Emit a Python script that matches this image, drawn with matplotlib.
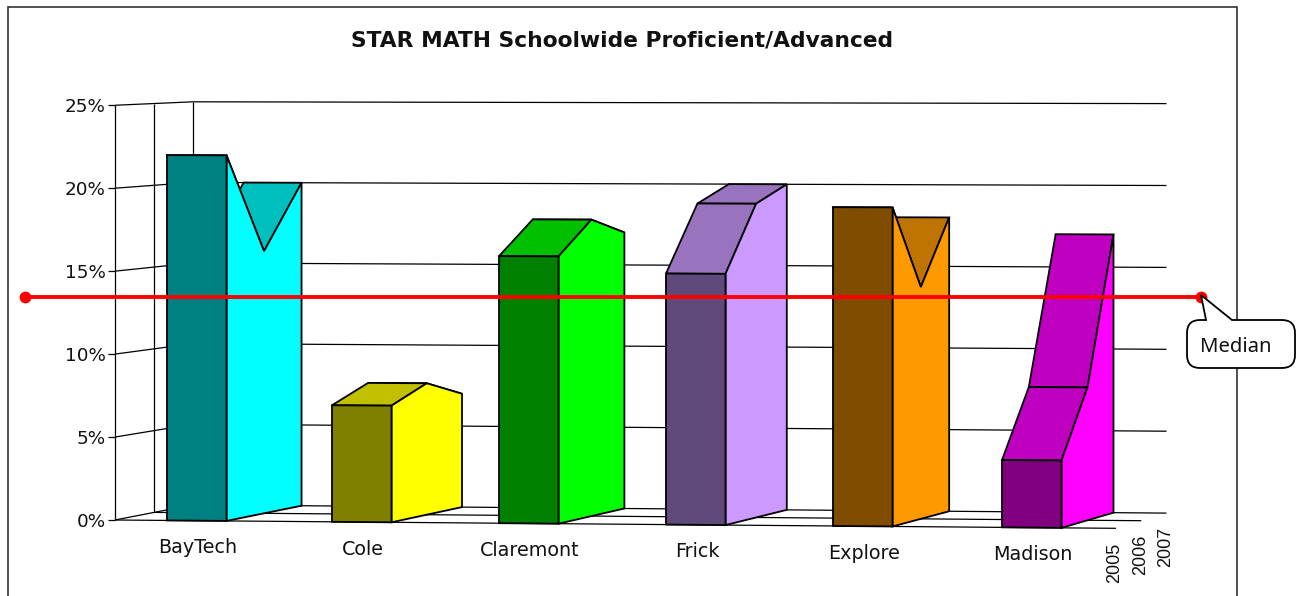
import matplotlib
matplotlib.use('Agg')
import matplotlib.pyplot as plt
from matplotlib.patches import Polygon, PathPatch, Rectangle
from matplotlib.path import Path

schools = ['BayTech', 'Cole', 'Claremont', 'Frick', 'Explore', 'Madison']
years = ['2005', '2006', '2007']
vals_2005 = [22, 7, 16, 15, 19, 4]
vals_2006 = [16, 8, 18, 19, 14, 8]
vals_2007 = [20, 7, 17, 20, 18, 17]
yticks = [0, 5, 10, 15, 20, 25]
front_colors = ['#008080', '#808000', '#008000', '#604A7B', '#7F4C00', '#800080']
top_colors = ['#00BFBF', '#C0C000', '#00C000', '#9A73BE', '#BF7300', '#C000C0']
side_colors = ['#00FFFF', '#FFFF00', '#00FF00', '#CC99FF', '#FF9900', '#FF00FF']

# floor corners and bar left edges, in picture pixels
x_left = 115
x_right = 1116
bar_lefts = [167, 332, 499, 666, 833, 1002]
bar_w = 59.5
median_y = 297


def project(xf, d, v):
	# fake excel 3d: xf is position on front edge, d is depth 0..2, v is percent
	x = xf + d / 2 * (81.3 - 0.0276 * xf)
	base = 520 + 0.0083 * (xf - x_left) - d / 2 * 15.2
	scale = 16.59 + 0.00026 * (xf - x_left) - d / 2 * 0.47
	return x, base - v * scale


fig = plt.figure(figsize=(12.98, 5.96), dpi=100)
ax = fig.add_axes([0, 0, 1, 1])
ax.set_xlim(0, 1298)
ax.set_ylim(596, 0)
ax.axis('off')

ax.add_patch(Rectangle((8, 7), 1229, 600, fc='white', ec='#333333', lw=1.2, zorder=0))
ax.text(622, 40, 'STAR MATH Schoolwide Proficient/Advanced', ha='center', va='center',
		family='DejaVu Sans', weight='bold', fontsize=15.7, color='#111111')


def wall_line(p1, p2, lw=0.9):
	ax.plot([p1[0], p2[0]], [p1[1], p2[1]], color='black', lw=lw, zorder=1, solid_capstyle='butt')


# walls and floor
for t in yticks:
	wall_line(project(x_left, 0, t), project(x_left, 2, t))
	wall_line(project(x_left, 2, t), project(x_right, 2, t))
	px, py = project(x_left, 0, t)
	wall_line((px - 7, py), (px, py))
	ax.text(px - 9, py + 2, str(t) + '%', ha='right', va='center', fontsize=13.2, color='#111111')
for d in range(3):
	wall_line(project(x_left, d, 0), project(x_left, d, 25))
wall_line(project(x_left, 0, 0), project(x_right, 0, 0))
wall_line(project(x_left, 1, 0), project(x_right, 1, 0))

# bars
for s in range(len(schools)):
	xa = bar_lefts[s]
	xb = xa + bar_w
	v = [vals_2005[s], vals_2006[s], vals_2007[s]]
	for d in [1, 0]:
		pts = [project(xa, d, v[d]), project(xb, d, v[d]), project(xb, d + 1, v[d + 1]), project(xa, d + 1, v[d + 1])]
		ax.add_patch(Polygon(pts, fc=top_colors[s], ec='black', lw=1.3, joinstyle='miter', zorder=2))
	side = [project(xb, d, v[d]) for d in range(3)] + [project(xb, 2, 0), project(xb, 0, 0)]
	ax.add_patch(Polygon(side, fc=side_colors[s], ec='black', lw=1.3, joinstyle='miter', zorder=3))
	front = [project(xa, 0, 0), project(xb, 0, 0), project(xb, 0, v[0]), project(xa, 0, v[0])]
	ax.add_patch(Polygon(front, fc=front_colors[s], ec='black', lw=1.3, joinstyle='miter', zorder=4))
	bx, by = project(xa + 31, 0, 0)
	ax.text(bx, by + 27, schools[s], ha='center', va='center', fontsize=13.8, color='#111111')

# year labels, rotated, under the right end of the floor
for d in range(3):
	px, py = project(x_right, d, 0)
	ax.text(px - 1, py + 14, years[d], rotation=90, ha='center', va='top',
			family='Liberation Sans', fontsize=13, color='#111111')

# median line drawn over the chart
ax.plot([25, 1201], [median_y, median_y], color='#FF0000', lw=2.8, marker='o', ms=7.5,
		solid_capstyle='butt', zorder=6)

# callout
l, r, t, b, c = 1187, 1295, 320, 368, 13
verts = [(l + c, t), (1206, t), (1201, 295), (1232, t), (r - c, t), (r, t), (r, t + c), (r, b - c), (r, b),
		(r - c, b), (l + c, b), (l, b), (l, b - c), (l, t + c), (l, t), (l + c, t), (l + c, t)]
codes = [Path.MOVETO, Path.LINETO, Path.LINETO, Path.LINETO, Path.LINETO, Path.CURVE3, Path.CURVE3, Path.LINETO,
		Path.CURVE3, Path.CURVE3, Path.LINETO, Path.CURVE3, Path.CURVE3, Path.LINETO, Path.CURVE3, Path.CURVE3,
		Path.CLOSEPOLY]
ax.add_patch(PathPatch(Path(verts, codes), fc='white', ec='black', lw=1.3, zorder=7))
ax.text(1235.5, 347, 'Median', ha='center', va='center', family='Noto Sans', fontsize=14.6, color='#111111', zorder=8)

fig.savefig('out.png', dpi=100)
